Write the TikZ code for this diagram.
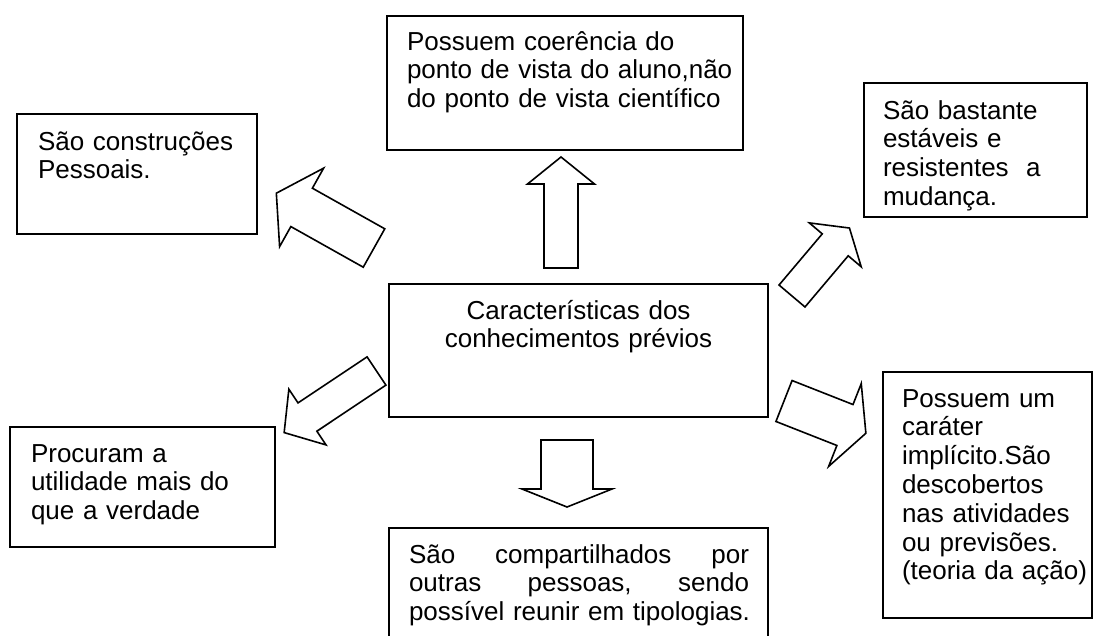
\documentclass[tikz,border=0pt]{standalone}
\usepackage{fontspec}
\setmainfont{Liberation Sans}
\usetikzlibrary{positioning}
\tikzset{caixa/.style = {draw, rectangle, line width = 1.8, inner sep = 0, outer sep = 0}}
\tikzset{texto/.style = {inner sep = 0, outer sep = 0, align = left, text width = 360,
    font = \fontsize{26}{28.8}\selectfont}}
\tikzset{bloco/.style = {draw, line width = 1.6, line join = miter, fill = white}}
% seta larga: base, angulo, haste, ponta, meia largura da haste, meia largura da ponta
\newcommand{\setalarga}[6]{%
  \begin{scope}[shift = {#1}, rotate = #2]
    \draw [bloco] (0, -#5) -- (#3, -#5) -- (#3, -#6) -- ({#3 + #4}, 0)
      -- (#3, #6) -- (#3, #5) -- (0, #5) -- cycle;
  \end{scope}}

\begin{document}
\begin{tikzpicture}[x = 1pt, y = -1pt]
  \useasboundingbox (0, 0) rectangle (1094, 635);
  \clip (0, 0) rectangle (1094, 635);

  % caixas
  \node [caixa, minimum width = 379, minimum height = 133] (carac) at (578.5, 350.5) {};
  \node [caixa, minimum width = 356, minimum height = 134] (coer) at (565, 83) {};
  \node [caixa, minimum width = 240, minimum height = 120] (pess) at (137, 174) {};
  \node [caixa, minimum width = 223, minimum height = 134] (est) at (975.5, 150) {};
  \node [caixa, minimum width = 265, minimum height = 120] (util) at (142.5, 487) {};
  \node [caixa, minimum width = 379, minimum height = 144] (comp) at (578.5, 600) {};
  \node [caixa, minimum width = 209, minimum height = 246] (impl) at (987.5, 495) {};

  % textos
  \node [texto, anchor = base, align = center, text width = 370] (tcarac) at (578.5, 319)
    {Características dos\\conhecimentos prévios};
  \node [texto, anchor = base west] (tcoer) at (407, 50)
    {Possuem coerência do\\ponto de vista do aluno,não\\do ponto de vista científico};
  \node [texto, anchor = base west] (tpess) at (38, 150)
    {São construções\\Pessoais.};
  \node [texto, anchor = base west] (test) at (883, 119)
    {São bastante\\estáveis e\\resistentes\ \ a\\mudança.};
  \node [texto, anchor = base west] (tutil) at (31, 462)
    {Procuram a\\utilidade mais do\\que a verdade};
  \node [texto, anchor = base west, text width = 340] (tcomp) at (409, 563)
    {São\hfill compartilhados\hfill por\\outras\hfill pessoas,\hfill sendo\\\mbox{possível reunir em tipologias.}};
  \node [texto, anchor = base west] (timpl) at (902, 407)
    {Possuem um\\caráter\\implícito.São\\descobertos\\nas atividades\\ou previsões.\\(teoria da ação)};

  % setas
  \setalarga{(561, 268)}{90}{84}{27}{17}{33.5}
  \setalarga{(374, 248)}{150.7}{83}{29}{22}{45}
  \setalarga{(792, 296)}{49.8}{67}{22}{17}{34}
  \setalarga{(376.5, 371)}{213.7}{83}{28}{17}{33.5}
  \setalarga{(567, 440)}{-90}{49}{18}{26}{45}
  \setalarga{(784, 401)}{-21.5}{65.5}{22.5}{22}{44.5}
\end{tikzpicture}
\end{document}
